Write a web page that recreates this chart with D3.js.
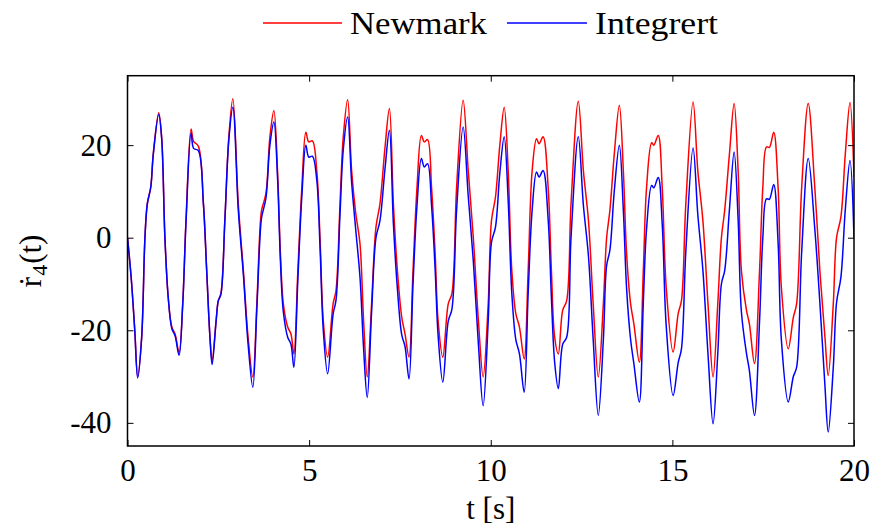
<!DOCTYPE html>
<html>
<head>
<meta charset="utf-8">
<script src="https://cdn.jsdelivr.net/npm/d3@7/dist/d3.min.js"></script>
<style>
  html, body { margin: 0; padding: 0; background: #fff; }
  svg { display: block; }
  text { font-family: "Liberation Serif", "DejaVu Serif", serif; fill: #000; }
</style>
</head>
<body>
<svg id="chart" width="871" height="531"></svg>
<script>
// Sample times [s]
const time = [
  0.00, 0.10, 0.20, 0.28, 0.39, 0.48, 0.545, 0.64, 0.71, 0.86, 0.94, 1.03, 1.12, 1.22, 1.31, 1.42,
  1.52, 1.61, 1.75, 1.82, 1.95, 2.09, 2.18, 2.27, 2.33, 2.44, 2.50, 2.57, 2.68, 2.79, 2.90,
  3.05, 3.19, 3.32, 3.45, 3.56, 3.65, 3.69, 3.81, 3.92, 4.03, 4.13, 4.21, 4.29, 4.41, 4.50, 4.58,
  4.69, 4.80, 4.91, 4.99, 5.09, 5.21, 5.30, 5.39, 5.51, 5.66, 5.74, 5.85, 5.94, 6.06,
  6.17, 6.28, 6.40, 6.50, 6.60, 6.72, 6.84, 6.95, 7.09, 7.21, 7.32, 7.43, 7.55, 7.64, 7.75,
  7.86, 7.97, 8.09, 8.17, 8.26, 8.37, 8.47, 8.55, 8.68, 8.83, 8.93, 9.06, 9.24,
  9.38, 9.52, 9.66, 9.79, 9.93, 10.02, 10.13, 10.25, 10.37, 10.48, 10.58, 10.69, 10.79, 10.92,
  11.03, 11.14, 11.26, 11.33, 11.44, 11.58, 11.67, 11.76, 11.86, 11.98, 12.09, 12.21, 12.41,
  12.55, 12.69, 12.82, 12.96, 13.10, 13.19, 13.28, 13.40, 13.54, 13.65, 13.74, 13.85, 13.94, 14.09,
  14.20, 14.29, 14.43, 14.49, 14.61, 14.72, 14.83, 15.02, 15.16, 15.25, 15.37, 15.57,
  15.70, 15.84, 15.98, 16.12, 16.25, 16.35, 16.44, 16.57, 16.70, 16.81, 16.90, 17.04, 17.12, 17.26,
  17.40, 17.49, 17.59, 17.67, 17.79, 17.91, 18.00, 18.19, 18.33, 18.42, 18.56, 18.74,
  18.92, 19.06, 19.20, 19.29, 19.43, 19.52, 19.64, 19.76, 19.89, 20.00
];

// Velocity of dof 4, Newmark solution
const newmark = [
  0, -8.5, -20, -30, -21.5, 0, 7.3, 10.9, 18.2, 27, 21.7, 0, -12.8, -19.3, -20.8, -24.8,
  -14.3, 3.7, 23.5, 20.8, 19.8, 7.3, -7.1, -21.5, -26.5, -17.9, -13.6, -12.1, 3.7, 21.8, 30,
  7.3, -7.1, -21.5, -30.1, -14.3, 2.3, 5.9, 9.5, 21.8, 27.5, 14.5, -3.5, -14.3, -19.3, -20.8, -25.1,
  -7.1, 10.9, 22.8, 20.7, 20.9, 14.5, 0, -17.9, -25.8, -14.3, -11.4, 7.3, 21.8, 29.8,
  14.5, 5.5, -1.3, -18, -30.1, -14.3, 2.3, 7.3, 19.6, 27.9, 7.3, -7.1, -17.2, -20.8, -25.8,
  -7.1, 10.9, 22.1, 20.7, 21.2, 10.9, -3.5, -17.9, -25.8, -14.3, -12.1, 10.9, 29.7,
  14.5, 0, -17.9, -30.1, -14.3, 3.7, 8.8, 20, 28.2, 14.5, -7.1, -16.4, -19.3, -26.2,
  -7.1, 14.5, 21.4, 20.3, 21.8, 10.9, -7.1, -21.5, -25.1, -15.7, -13.6, 7.3, 29.5,
  14.5, 3.7, -14.3, -30.1, -14.3, 0, 5.9, 18, 28.6, 14.5, -3.5, -14.3, -18.6, -26.9,
  -7.1, 10.9, 20.5, 20, 22.1, 10.9, -10.7, -24.7, -16.4, -13.6, 7.3, 29.3,
  14.5, 3.7, -14.3, -30.1, -14.3, 0, 5.9, 18, 29, 14.5, -7.1, -15.7, -18.6, -27.2,
  -7.1, 10.9, 19.6, 19.5, 22.8, 10.9, -10.7, -24, -17.2, -14.3, 10.9, 29,
  10.9, -7.1, -21.5, -29.8, -14.3, 0, 4.5, 18, 29.2, 13.1
];

// Velocity of dof 4, direct integration
const integrert = [
  0, -8.5, -20, -30.3, -21.5, 0, 7.3, 10.9, 18, 26.6, 21.5, 0, -12.8, -19.6, -21.2, -25.4,
  -14.5, 3.2, 22.6, 19.3, 18.8, 7.3, -7.1, -21.5, -27.4, -17.9, -13.6, -12.3, 3.7, 21.2, 28.2,
  6, -8, -23, -32.3, -15.5, 0.5, 4.3, 8.5, 20, 25, 13, -5, -16, -21.5, -23, -28,
  -9, 9, 20, 17.4, 17.6, 12.5, -2, -20, -29.4, -16.5, -13.5, 5, 19, 26.1,
  12, 2, -8.5, -24, -34.5, -16, 0, 3.7, 15, 23.2, 3, -11, -21, -23.5, -30.5,
  -10, 7, 17.1, 15.3, 16, 7, -7, -21, -31.2, -18, -15.5, 6, 23.9,
  9, -5, -23, -36.3, -18, -1, 2.3, 14, 21.8, 8, -12, -22, -25.1, -33.4,
  -12, 6, 14.2, 13.1, 14.5, 4, -13, -27, -32.6, -23, -21.5, 0, 21.8,
  7, -4, -22, -38.4, -22, -6, -2.7, 10, 20, 6, -11, -22, -27.2, -35.5,
  -14, 2, 11.3, 10.8, 13, 3, -19, -34.1, -27, -24, -3, 19.4,
  5, -7, -25, -40.2, -25, -10, -7.1, 6, 18.5, 4, -16, -25, -28.7, -38.4,
  -18, 0, 8.4, 8.3, 11.5, -1, -22, -35.5, -30, -28, -3, 17.1,
  2, -14, -32, -42, -28, -14, -8.5, 6, 16.7, 0
];

const xTicks = [0, 5, 10, 15, 20];
const yTicks = [-40, -20, 0, 20];
const seriesNames = ["Newmark", "Integrert"];
const seriesColors = ["#ff0000", "#0000ff"];

const svg = d3.select("#chart");
const plot = { left: 127.5, right: 854, top: 75.7, bottom: 446 };

const x = d3.scaleLinear().domain([0, 20]).range([plot.left, plot.right]);
const y = d3.scaleLinear().domain([-45, 35]).range([plot.bottom, plot.top]);

svg.append("defs").append("clipPath").attr("id", "plot-clip")
  .append("rect")
  .attr("x", plot.left).attr("y", plot.top)
  .attr("width", plot.right - plot.left).attr("height", plot.bottom - plot.top);

// Curves
const line = d3.line()
  .x((d, i) => x(time[i]))
  .y(d => y(d))
  .curve(d3.curveCatmullRom.alpha(0.5));

const curves = svg.append("g").attr("clip-path", "url(#plot-clip)");
[newmark, integrert].forEach((vals, k) => {
  curves.append("path")
    .datum(vals)
    .attr("fill", "none")
    .attr("stroke", seriesColors[k])
    .attr("stroke-width", 1.5)
    .attr("stroke-linejoin", "round")
    .attr("d", line);
});

// Axes with inward ticks on all four sides
const tickLen = 6;
const fontSize = 31;

const gx = svg.append("g").attr("transform", `translate(0,${plot.bottom})`)
  .call(d3.axisBottom(x).tickValues(xTicks).tickFormat(d => String(d))
    .tickSizeInner(-tickLen).tickSizeOuter(0).tickPadding(13));
const gxTop = svg.append("g").attr("transform", `translate(0,${plot.top})`)
  .call(d3.axisTop(x).tickValues(xTicks).tickFormat("")
    .tickSizeInner(-tickLen).tickSizeOuter(0));
const gy = svg.append("g").attr("transform", `translate(${plot.left},0)`)
  .call(d3.axisLeft(y).tickValues(yTicks).tickFormat(d => String(d))
    .tickSizeInner(-tickLen).tickSizeOuter(0).tickPadding(16));
const gyRight = svg.append("g").attr("transform", `translate(${plot.right},0)`)
  .call(d3.axisRight(y).tickValues(yTicks).tickFormat("")
    .tickSizeInner(-tickLen).tickSizeOuter(0));

[gx, gxTop, gy, gyRight].forEach(g => {
  g.select(".domain").remove();
  g.selectAll(".tick line").attr("stroke", "#000").attr("stroke-width", 1);
  g.selectAll(".tick text")
    .attr("font-family", "Liberation Serif, DejaVu Serif, serif")
    .attr("font-size", fontSize)
    .attr("fill", "#000");
});

// Frame
svg.append("rect")
  .attr("x", plot.left).attr("y", plot.top)
  .attr("width", plot.right - plot.left).attr("height", plot.bottom - plot.top)
  .attr("fill", "none").attr("stroke", "#000").attr("stroke-width", 1.5);

// Axis titles
svg.append("text")
  .attr("x", (plot.left + plot.right) / 2)
  .attr("y", 519)
  .attr("text-anchor", "middle")
  .attr("font-size", fontSize)
  .text("t [s]");

const yTitle = svg.append("text")
  .attr("transform", `translate(41,${(plot.top + plot.bottom) / 2}) rotate(-90)`)
  .attr("text-anchor", "middle")
  .attr("font-size", fontSize);
yTitle.append("tspan").text("ṙ");
yTitle.append("tspan").attr("font-size", 22).attr("dy", 6).attr("dx", 1).text("4");
yTitle.append("tspan").attr("dy", -6).attr("dx", 1).text("(t)");

// Legend
const legendItems = [
  { x1: 263, x2: 342, tx: 350, w: 137 },
  { x1: 507, x2: 587, tx: 595, w: 123 }
];
const legend = svg.append("g");
legendItems.forEach((it, k) => {
  legend.append("line")
    .attr("x1", it.x1).attr("x2", it.x2)
    .attr("y1", 23).attr("y2", 23)
    .attr("stroke", seriesColors[k]).attr("stroke-width", 1.5);
  legend.append("text")
    .attr("x", it.tx).attr("y", 34)
    .attr("font-size", fontSize)
    .attr("textLength", it.w)
    .attr("lengthAdjust", "spacingAndGlyphs")
    .text(seriesNames[k]);
});
</script>
</body>
</html>
